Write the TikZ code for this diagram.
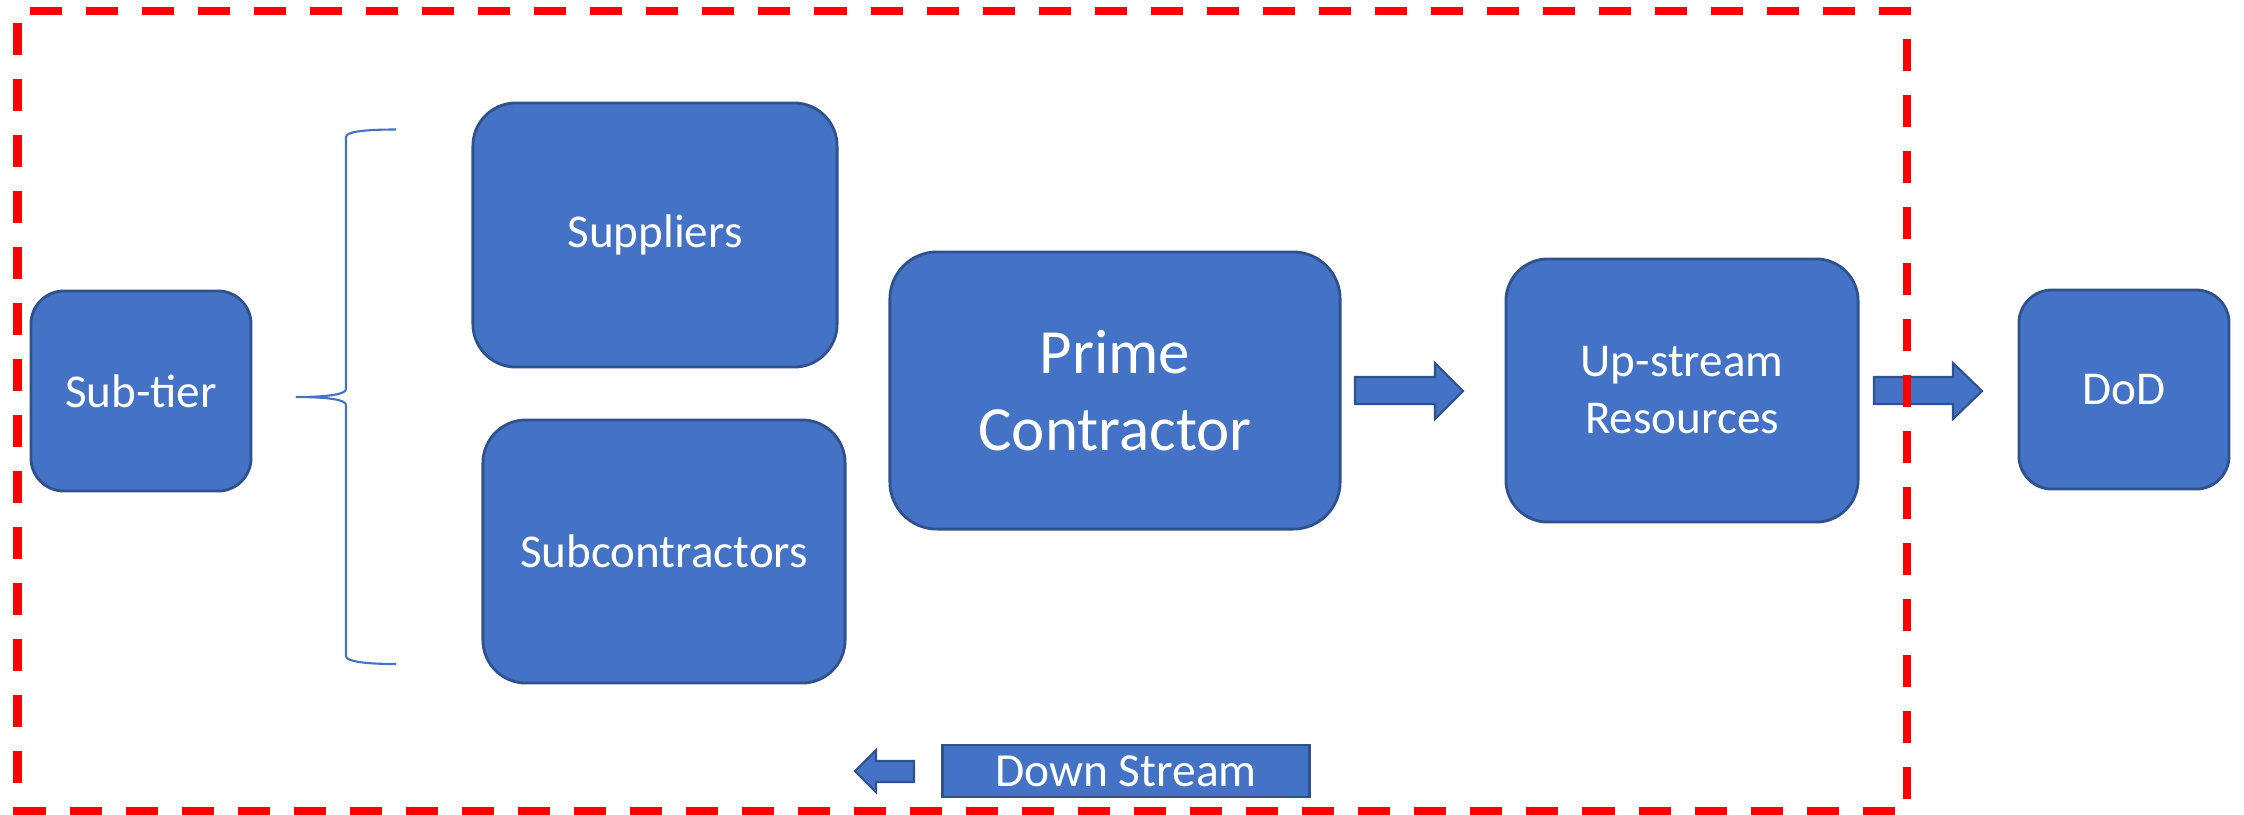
\documentclass[tikz,border=0pt]{standalone}
\usepackage{fontspec}
\setmainfont{Carlito}
\definecolor{boxfill}{HTML}{4472C4}
\definecolor{boxline}{HTML}{2F528F}
\definecolor{frame}{HTML}{FF0000}
\begin{document}
\begin{tikzpicture}[x=0.01cm,y=-0.01cm,
  blk/.style={draw=boxline, fill=boxfill, line width=0.8pt, text=white,
    inner sep=0pt, align=center, font=\fontsize{13.4}{16.2}\selectfont},
  blockarrow/.style={draw=boxline, fill=boxfill, line width=0.6pt, line join=miter},
  bracket/.style={draw=boxfill, line width=0.6pt},
  border/.style={draw=frame, line width=0.08cm,
    dash pattern=on 0.32cm off 0.24cm, dash phase=0.435cm}]
\useasboundingbox (0,0) rectangle (2244,814);

% tiers of the chain
\node[blk, minimum width=2.2cm, minimum height=2.0cm, rounded corners=0.33cm]
  (subtier) at (141,391) {Sub-tier};
\node[blk, minimum width=3.64cm, minimum height=2.64cm, rounded corners=0.43cm]
  (suppliers) at (655,235) {Suppliers};
\node[blk, minimum width=3.62cm, minimum height=2.63cm, rounded corners=0.43cm]
  (subcon) at (664,551.5) {Subcontractors};
\node[blk, minimum width=4.5cm, minimum height=2.77cm, rounded corners=0.47cm,
  font=\fontsize{17.9}{21.9}\selectfont]
  (prime) at (1115,390.5) {Prime\\Contractor};
\node[blk, minimum width=3.52cm, minimum height=2.63cm, rounded corners=0.42cm]
  (upstream) at (1682,390.5) {Up-stream\\Resources};
\node[blk, minimum width=2.1cm, minimum height=1.99cm, rounded corners=0.33cm]
  (dod) at (2124,389.5) {DoD};

% down-stream label
\node[blk, minimum width=3.66cm, minimum height=0.52cm,
  font=\fontsize{13.5}{16}\selectfont] (down) at (1126,771) {Down Stream};

% block arrows
\path[blockarrow] (1355,377) -- (1435,377) -- (1435,363) -- (1463,391)
  -- (1435,419) -- (1435,404) -- (1355,404) -- cycle;
\path[blockarrow] (1874,377) -- (1953,377) -- (1953,363) -- (1982,391)
  -- (1953,419) -- (1953,404) -- (1874,404) -- cycle;
\path[blockarrow] (914,761) -- (876,761) -- (876,750) -- (855,771)
  -- (876,792) -- (876,782) -- (914,782) -- cycle;

% curly brace grouping suppliers and subcontractors
\path[bracket] (396,129.5) .. controls (362,129.5) and (346,132) .. (346,137)
  -- (346,389) .. controls (346,394) and (330,397) .. (296,397)
  .. controls (330,397) and (346,400) .. (346,405)
  -- (346,656) .. controls (346,661) and (362,664) .. (396,664);

% dashed boundary
\path[border] (17.5,10.7) -- (1907,10.7) -- (1907,811) -- (17.5,811) -- cycle;
\end{tikzpicture}
\end{document}
